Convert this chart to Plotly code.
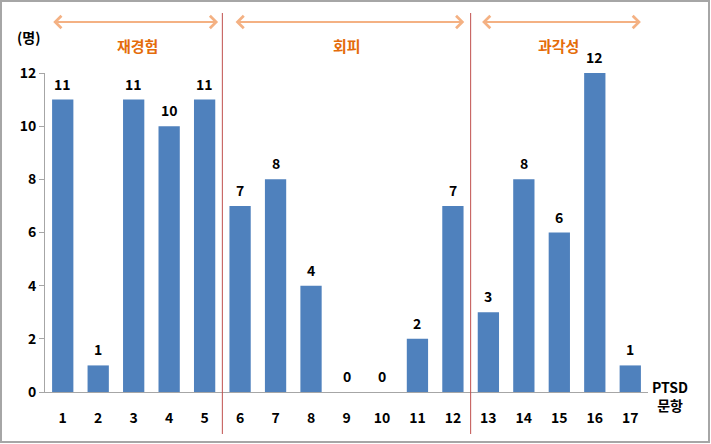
import plotly.graph_objects as go

items = list(range(1, 18))
counts = [11, 1, 11, 10, 11, 7, 8, 4, 0, 0, 2, 7, 3, 8, 6, 12, 1]
y_ticks = [0, 2, 4, 6, 8, 10, 12]
groups = ["재경험", "회피", "과각성"]
group_label_x = [3.12, 9.02, 14.98]
group_arrow_x = [(0.69, 5.38), (5.83, 12.32), (12.78, 17.3)]
dividers = [5.5, 12.5]

FONT = "Noto Sans CJK KR"
W, H = 711, 444
ML, MR, MT, MB = 45, 63, 73, 52
PW, PH = W - ML - MR, H - MT - MB


def py(pix):
    return (H - MB - pix) / PH


def px(pix):
    return (pix - ML) / PW


fig = go.Figure()
fig.add_trace(go.Bar(
    x=items, y=counts, width=0.6,
    marker=dict(color="#4F81BD", line=dict(width=0)),
    hoverinfo="skip",
))

annotations = []
for xi, v in zip(items, counts):
    annotations.append(dict(x=xi, y=v, xref="x", yref="y", text=str(v), showarrow=False,
                            yshift=16, font=dict(family=FONT, size=14, color="#000000", weight="bold")))

for (a, b) in group_arrow_x:
    annotations.append(dict(x=b, y=py(22), ax=a, ay=0, xref="x", yref="paper",
                            axref="x", ayref="pixel", text="", showarrow=True,
                            arrowside="end+start", arrowhead=4, startarrowhead=4,
                            arrowsize=1.1, startarrowsize=1.1, arrowwidth=2.2,
                            arrowcolor="#F4B183"))
for g, gx in zip(groups, group_label_x):
    annotations.append(dict(x=gx, y=py(45), xref="x", yref="paper", text=g, showarrow=False,
                            xanchor="center", yanchor="middle",
                            font=dict(family=FONT, size=15, color="#E46C0A", weight="bold")))

annotations.append(dict(x=px(28), y=py(37), xref="paper", yref="paper", text="(명)", showarrow=False,
                        xanchor="center", yanchor="middle",
                        font=dict(family=FONT, size=14, color="#000000", weight="bold")))
annotations.append(dict(x=px(670), y=py(396), xref="paper", yref="paper",
                        text="PTSD<br>문항", showarrow=False, xanchor="center", yanchor="middle",
                        font=dict(family=FONT, size=14, color="#000000", weight="bold")))

shapes = []
for d in dividers:
    shapes.append(dict(type="line", xref="x", yref="paper", x0=d, x1=d, y0=py(13), y1=py(434),
                       line=dict(color="#C0504D", width=1)))
shapes.append(dict(type="rect", xref="paper", yref="paper",
                   x0=px(1), x1=px(W - 2), y0=py(H - 2), y1=py(1),
                   line=dict(color="#A6A6A6", width=2), fillcolor="rgba(0,0,0,0)"))

fig.update_layout(
    width=W, height=H,
    margin=dict(l=ML, r=MR, t=MT, b=MB, pad=0),
    paper_bgcolor="white", plot_bgcolor="white",
    showlegend=False,
    annotations=annotations,
    shapes=shapes,
    xaxis=dict(range=[0.5, 17.5], tickvals=items, ticktext=[str(i) for i in items],
               showgrid=False, zeroline=False, showline=True, linecolor="#A6A6A6", linewidth=1,
               ticks="outside", ticklen=13, tickcolor="rgba(0,0,0,0)",
               tickfont=dict(family=FONT, size=14, color="#000000", weight="bold")),
    yaxis=dict(range=[0, 12], tickvals=y_ticks, showgrid=False, zeroline=False,
               showline=True, linecolor="#A6A6A6", linewidth=1,
               ticks="outside", ticklen=5, tickcolor="#A6A6A6",
               tickfont=dict(family=FONT, size=14, color="#000000", weight="bold")),
    font=dict(family=FONT),
)

fig.write_html("out.html")
